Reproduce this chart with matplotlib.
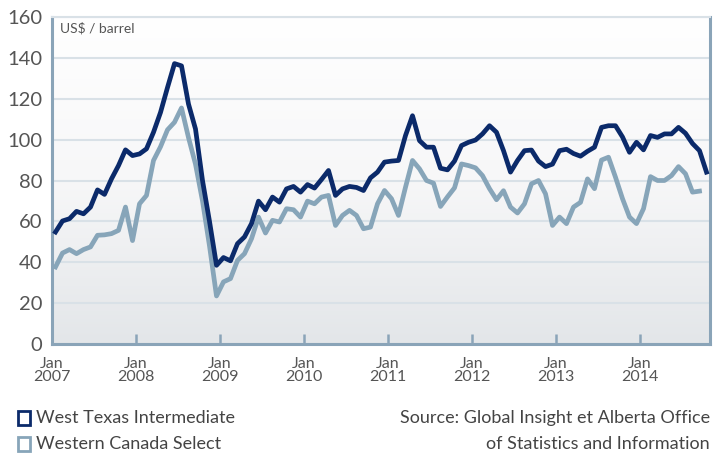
import numpy as np
import matplotlib.pyplot as plt
import matplotlib.patches as mpatches
from matplotlib.colors import LinearSegmentedColormap

plt.rcParams['font.family'] = ['Lato', 'DejaVu Sans']

# monthly prices, US$/barrel, Jan 2007 onwards
wti = [54.8, 60.2, 61.3, 64.9, 63.7, 67.0, 75.4, 73.2, 80.8, 87.3, 95.0, 92.2,
       93.0, 95.5, 103.6, 113.3, 125.5, 137.2, 136.1, 117.4, 105.2, 80.0, 60.0, 38.5,
       42.3, 40.7, 49.1, 52.4, 58.9, 69.9, 65.7, 71.9, 69.4, 75.9, 77.1, 74.3,
       78.0, 76.3, 80.5, 84.9, 72.7, 75.9, 77.1, 76.6, 75.1, 81.3, 84.1, 89.0,
       89.5, 89.8, 102.0, 111.7, 99.5, 96.3, 96.3, 86.0, 85.2, 89.5, 97.1, 98.7,
       99.8, 102.8, 106.8, 103.6, 94.6, 84.1, 89.8, 94.6, 94.9, 89.5, 86.8, 88.0,
       94.6, 95.3, 93.2, 91.9, 94.3, 96.3, 106.0, 106.8, 106.8, 101.3, 93.8, 98.7,
       95.0, 102.0, 101.1, 102.8, 102.8, 106.0, 103.1, 98.1, 94.6, 84.1]

wcs = [37.7, 44.5, 46.2, 44.2, 46.2, 47.5, 53.2, 53.4, 54.0, 55.6, 67.0, 50.6,
       68.6, 72.7, 89.8, 96.5, 104.8, 108.5, 115.5, 101.0, 88.0, 70.0, 48.0, 23.5,
       30.4, 32.0, 40.9, 44.2, 51.5, 62.1, 54.3, 60.5, 59.7, 66.2, 65.7, 62.1,
       69.9, 68.6, 71.9, 72.7, 58.0, 62.9, 65.4, 62.9, 56.4, 57.2, 68.6, 75.1,
       71.1, 62.9, 76.7, 89.8, 85.7, 80.0, 78.7, 67.3, 72.0, 76.4, 88.1, 87.3,
       86.2, 82.4, 76.0, 70.6, 75.0, 67.0, 64.1, 68.6, 78.4, 80.0, 73.5, 58.0,
       62.1, 58.9, 67.0, 69.3, 80.8, 76.0, 90.0, 91.4, 81.6, 71.1, 62.1, 58.9,
       66.2, 81.9, 80.0, 80.0, 82.4, 86.8, 83.3, 74.3, 74.8]

years = list(range(2007, 2015))
tick_labels = ['Jan\n%d' % y for y in years]

wti_color = '#0b2a6a'
wcs_color = '#87a5b9'
spine_color = '#8aa4b8'
text_color = '#555555'

fig = plt.figure(figsize=(7.17, 4.55), dpi=100)
ax = fig.add_axes([52 / 717, 1 - 344 / 455, 658 / 717, 327 / 455])

xmin, xmax = -0.44, 93.5

# background gradient, white on top to light grey at the bottom
grad_cmap = LinearSegmentedColormap.from_list('bg', ['#ffffff', '#f7f7f8', '#e3e6e9'])
grad = np.linspace(0, 1, 256).reshape(-1, 1)
ax.imshow(grad, extent=[xmin, xmax, 0, 160], aspect='auto', cmap=grad_cmap,
          origin='upper', zorder=0)

ax.set_xlim(xmin, xmax)
ax.set_ylim(0, 160)

ax.set_yticks(range(0, 161, 20))
ax.yaxis.grid(True, color='#d9e1e7', lw=1.5, zorder=1)
ax.tick_params(axis='y', length=0, pad=7, labelsize=14.5, labelcolor=text_color)

ax.set_xticks([12 * k - 0.5 for k in range(len(years))])
ax.set_xticklabels(tick_labels)
ax.tick_params(axis='x', direction='in', length=7, width=1.8, color=spine_color,
               pad=9, labelsize=11.5, labelcolor=text_color)
for lbl in ax.get_xticklabels():
    lbl.set_linespacing(0.95)

for side in ['left', 'bottom', 'right']:
    ax.spines[side].set_color(spine_color)
    ax.spines[side].set_linewidth(2.2)
ax.spines['top'].set_color('#d9e1e7')
ax.spines['top'].set_linewidth(1.5)

ax.plot(range(len(wcs)), wcs, color=wcs_color, lw=3.4, zorder=3)
ax.plot(range(len(wti)), wti, color=wti_color, lw=3.4, zorder=4)

fig.text(60 / 717, 1 - 28 / 455, 'US$ / barrel', fontsize=10, color=text_color,
         va='center', ha='left')

# legend drawn by hand below the chart
for yy, col, name in [(418, wti_color, 'West Texas Intermediate'),
                      (444, wcs_color, 'Western Canada Select')]:
    box = mpatches.Rectangle((18 / 717, 1 - (yy + 7) / 455), 12 / 717, 14 / 455,
                             transform=fig.transFigure, fill=False,
                             edgecolor=col, lw=2)
    fig.patches.append(box)
    fig.text(36 / 717, 1 - yy / 455, name, fontsize=13, color='#444444',
             va='center', ha='left')

fig.text(710 / 717, 1 - 418 / 455, 'Source: Global Insight et Alberta Office',
         fontsize=13, color='#444444', va='center', ha='right')
fig.text(710 / 717, 1 - 444 / 455, 'of Statistics and Information',
         fontsize=13, color='#444444', va='center', ha='right')

plt.savefig('out.png', dpi=100)
